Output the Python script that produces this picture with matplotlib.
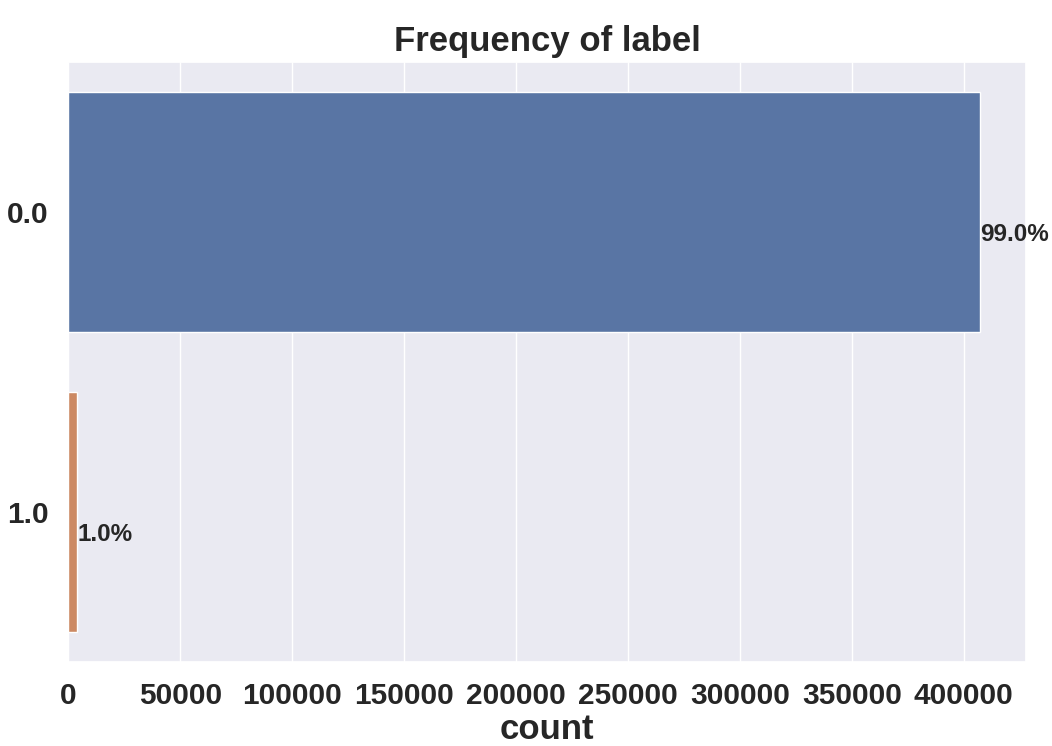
import numpy as np
import matplotlib
matplotlib.use("Agg")
import matplotlib.pyplot as plt
import seaborn as sns

labels = ["0.0", "1.0"]
counts = [407300, 4000]
title = "Frequency of label"
xlabel = "count"

sns.set_theme(style="darkgrid")
plt.rcParams['font.family'] = ['Liberation Sans', 'DejaVu Sans']

fig, ax = plt.subplots(figsize=(10.52, 7.46), dpi=100)
fig.subplots_adjust(left=0.065, right=0.975, top=0.917, bottom=0.112)

pal = sns.color_palette("deep", 2)
colors = [sns.desaturate(c, 0.75) for c in pal]
ypos = np.arange(len(labels))
bars = ax.barh(ypos, counts, height=0.8, color=colors)
ax.set_yticks(ypos)
ax.set_yticklabels(labels)
ax.set_ylim(1.5, -0.5)
ax.margins(x=0.05)
ax.grid(False, axis="y")

total = sum(counts)
for bar, c in zip(bars, counts):
    pct = "{:.1f}%".format(100 * c / total)
    ax.text(bar.get_width(), bar.get_y() + bar.get_height() / 2 + 0.075, pct,
            va="center", ha="left", fontsize=17.5, fontweight="bold", color="#262626")

ax.set_title(title, fontsize=25, fontweight="bold", color="#262626", pad=8)
ax.set_xlabel(xlabel, fontsize=25, fontweight="bold", color="#262626", labelpad=2)
ax.set_ylabel("")
for t in ax.get_xticklabels() + ax.get_yticklabels():
    t.set_fontsize(21.5)
    t.set_fontweight("bold")
    t.set_color("#262626")
ax.tick_params(axis="x", pad=8)
ax.tick_params(axis="y", pad=8)

plt.savefig("out.png", dpi=100)
